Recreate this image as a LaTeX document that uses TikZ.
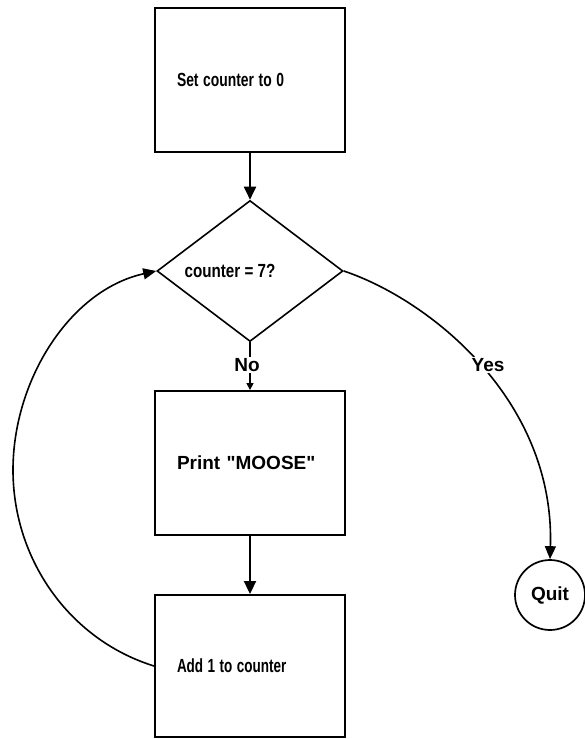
\documentclass[tikz,border=0pt]{standalone}
\usepackage{fontspec}
\setmainfont{Liberation Sans}[Ligatures=TeXOff]
\usetikzlibrary{arrows.meta,shapes.geometric}
\begin{document}
\begin{tikzpicture}[x=1pt,y=-1pt,
  every node/.style={font=\fontsize{19pt}{22pt}\selectfont\bfseries},
  box/.style={draw,line width=1.9pt,minimum width=190pt,minimum height=144pt,
    text width=146pt,align=left,inner xsep=22pt,inner ysep=0pt},
  decbox/.style={draw,diamond,line width=1.6pt,minimum width=186pt,minimum height=141pt,inner sep=0pt},
  endbox/.style={draw,circle,line width=1.7pt,minimum size=70pt,inner sep=0pt},
  arr/.style={line width=1.9pt,-{Triangle[length=13pt,width=12pt]}},
  curvearr/.style={line width=1.6pt,-{Triangle[length=13pt,width=11pt]}},
  smallarr/.style={line width=1.5pt,-{Triangle[length=7pt,width=7pt]}},
  lbl/.style={fill=white,inner sep=1pt}]
\useasboundingbox (0,0) rectangle (585,739);
\node[box] (top) at (250,80) {\scalebox{0.73}[1]{Set counter to 0}};
\node[decbox] (dec) at (250,271) {};
\node (dtext) at (230,271) {\scalebox{0.8}[1]{counter = 7?}};
\node[box] (print) at (250,463) {Print "MOOSE"};
\node[box,minimum height=142pt] (add) at (250,666) {\scalebox{0.71}[1]{Add 1 to counter}};
\node[endbox] (quit) at (550,595) {Quit};
\coordinate (loopL) at (13,470);
\draw[arr] (top.south) -- (dec.north);
\draw[smallarr] (dec.south) -- (print.north);
\node[lbl] (no) at (247,365) {No};
\draw[arr] (print.south) -- (add.north);
\draw[curvearr] (add.west) .. controls (70,640) and (13,560) .. (loopL)
  .. controls (13,380) and (70,290) .. (dec.west);
\draw[curvearr] (dec.east) .. controls (430,300) and (555,400) .. (quit.north);
\node[lbl] (yes) at (488,365) {Yes};
\end{tikzpicture}
\end{document}
